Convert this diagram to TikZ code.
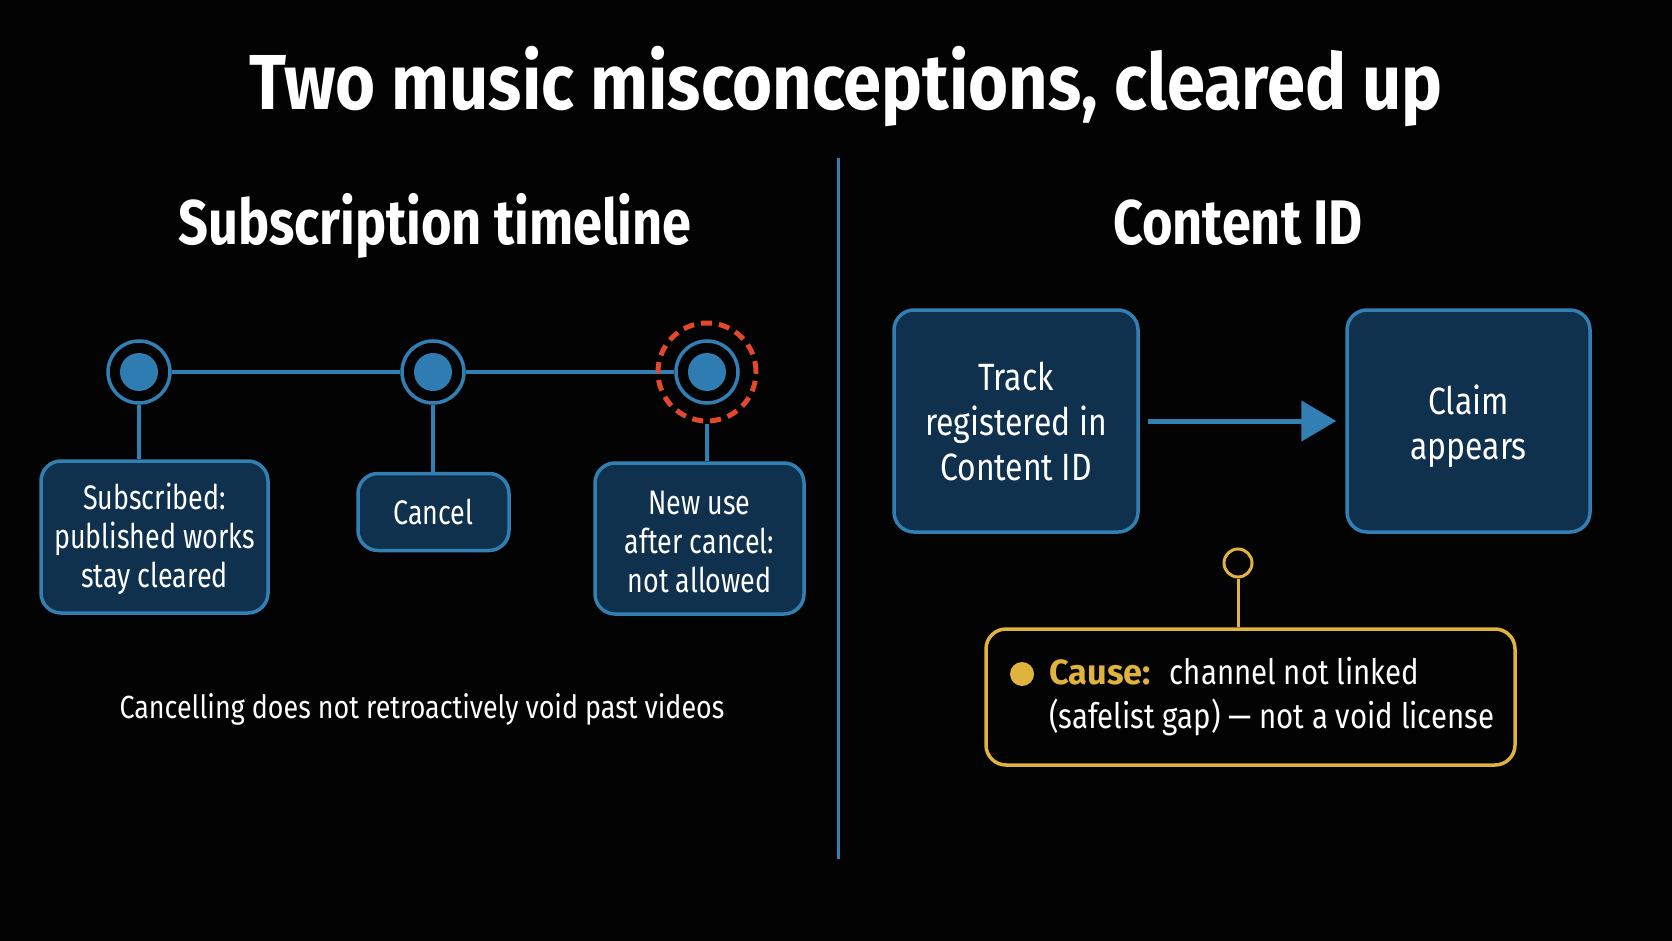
\documentclass[tikz,border=0pt]{standalone}
\usepackage{fontspec}
\setmainfont{Fira Sans}[FakeStretch=0.84]
\newfontfamily\titlefont{Fira Sans}[FakeStretch=0.88]
\newfontfamily\headfont{Fira Sans}[FakeStretch=0.83]
\newfontfamily\cardfont{Fira Sans}[FakeStretch=0.79]
\newfontfamily\causefont{Fira Sans}[FakeStretch=0.98]
\usetikzlibrary{arrows.meta, positioning, calc}
\definecolor{bgblack}{RGB}{3,3,4}
\definecolor{boxnavy}{RGB}{15,49,77}
\definecolor{edgeblue}{RGB}{50,127,180}
\definecolor{dotblue}{RGB}{46,124,178}
\definecolor{alertred}{RGB}{226,72,44}
\definecolor{causegold}{RGB}{224,178,62}

\tikzset{
  card/.style={draw=edgeblue, fill=boxnavy, line width=3.5pt, rounded corners=20pt,
    text=white, align=center, inner sep=0pt},
  tlring/.style={circle, draw=edgeblue, line width=3.5pt, minimum size=62pt, inner sep=0pt},
  tldot/.style={circle, fill=dotblue, minimum size=38pt, inner sep=0pt},
  link/.style={draw=edgeblue, line width=4.5pt},
}

\begin{document}
\begin{tikzpicture}[x=1pt, y=-1pt]
    % Canvas
    \fill[bgblack] (0,0) rectangle (1672,941);
    \useasboundingbox (0,0) rectangle (1672,941);

    % Titles
    \node[anchor=base, text=white, font=\titlefont\bfseries\fontsize{78}{90}\selectfont] (title) at (846,110) {Two music misconceptions, cleared up};
    \node[anchor=base, text=white, font=\headfont\bfseries\fontsize{63}{72}\selectfont] (lefthead) at (435,245) {Subscription timeline};
    \node[anchor=base, text=white, font=\headfont\bfseries\fontsize{63}{72}\selectfont] (righthead) at (1238,245) {Content ID};

    % Divider
    \draw[edgeblue, line width=3pt] (838,158) -- (838,859);

    % Timeline
    \node[tlring] (ring1) at (139,372) {};
    \node[tlring] (ring2) at (433,372) {};
    \node[tlring] (ring3) at (707,372) {};
    \foreach \r in {1,2,3}
        \node[tldot] (dot\r) at (ring\r) {};
    \draw[link] (ring1) -- (ring2);
    \draw[link] (ring2) -- (ring3);
    \node[circle, draw=alertred, line width=5pt, dash pattern=on 11pt off 7pt,
          minimum size=98pt, inner sep=0pt] (alert) at (ring3) {};

    % Timeline cards
    \node[card, minimum width=227pt, minimum height=152pt, font=\cardfont\fontsize{34}{39}\selectfont] (subbox) at (154.5,537)
        {\rule{0pt}{30pt}Subscribed:\\published works\\stay cleared};
    \node[card, minimum width=151pt, minimum height=77pt, font=\cardfont\fontsize{34}{39}\selectfont] (cancelbox) at (433.5,512)
        {Cancel};
    \node[card, minimum width=209pt, minimum height=151pt, font=\cardfont\fontsize{34}{39}\selectfont] (newbox) at (699.5,538.5)
        {\rule{0pt}{30pt}New use\\after cancel:\\not allowed};
    \draw[link, line width=3.5pt] (ring1) -- (ring1 |- subbox.north);
    \draw[link, line width=3.5pt] (ring2) -- (ring2 |- cancelbox.north);
    \draw[link, line width=3.5pt] (alert) -- (alert |- newbox.north);

    \node[anchor=base, text=white, font=\fontsize{32}{36}\selectfont] (note) at (422,718)
        {Cancelling does not retroactively void past videos};

    % Content ID flow
    \node[card, minimum width=244pt, minimum height=222pt, font=\fontsize{38}{45}\selectfont] (track) at (1016,421)
        {Track\\registered in\\Content ID};
    \node[card, minimum width=243pt, minimum height=222pt, font=\fontsize{38}{45}\selectfont] (claim) at (1468.5,421)
        {\rule{0pt}{40pt}Claim\\appears};
    \draw[link, line width=5pt, -{Triangle[length=35pt, width=40pt]}, shorten <=8pt, shorten >=9pt]
        (track.east) -- (claim.west);

    % Cause callout
    \node[draw=causegold, line width=3.5pt, rounded corners=20pt, fill=bgblack,
          minimum width=529pt, minimum height=136pt] (causebox) at (1250.5,697) {};
    \node[circle, draw=causegold, line width=3pt, minimum size=28pt, inner sep=0pt] (causering) at (1238,563) {};
    \draw[causegold, line width=3pt] (causering) -- (causering |- causebox.north);
    \node[circle, fill=causegold, minimum size=24pt, inner sep=0pt] (causedot) at (1022,674) {};
    \node[anchor=west, align=left, text=white, inner sep=0pt, font=\fontsize{35}{44}\selectfont] (causetext) at (1049,697)
        {{\causefont\color{causegold}\bfseries Cause:}\hspace{19pt}channel not linked\\(safelist gap) — not a void license};
\end{tikzpicture}
\end{document}
